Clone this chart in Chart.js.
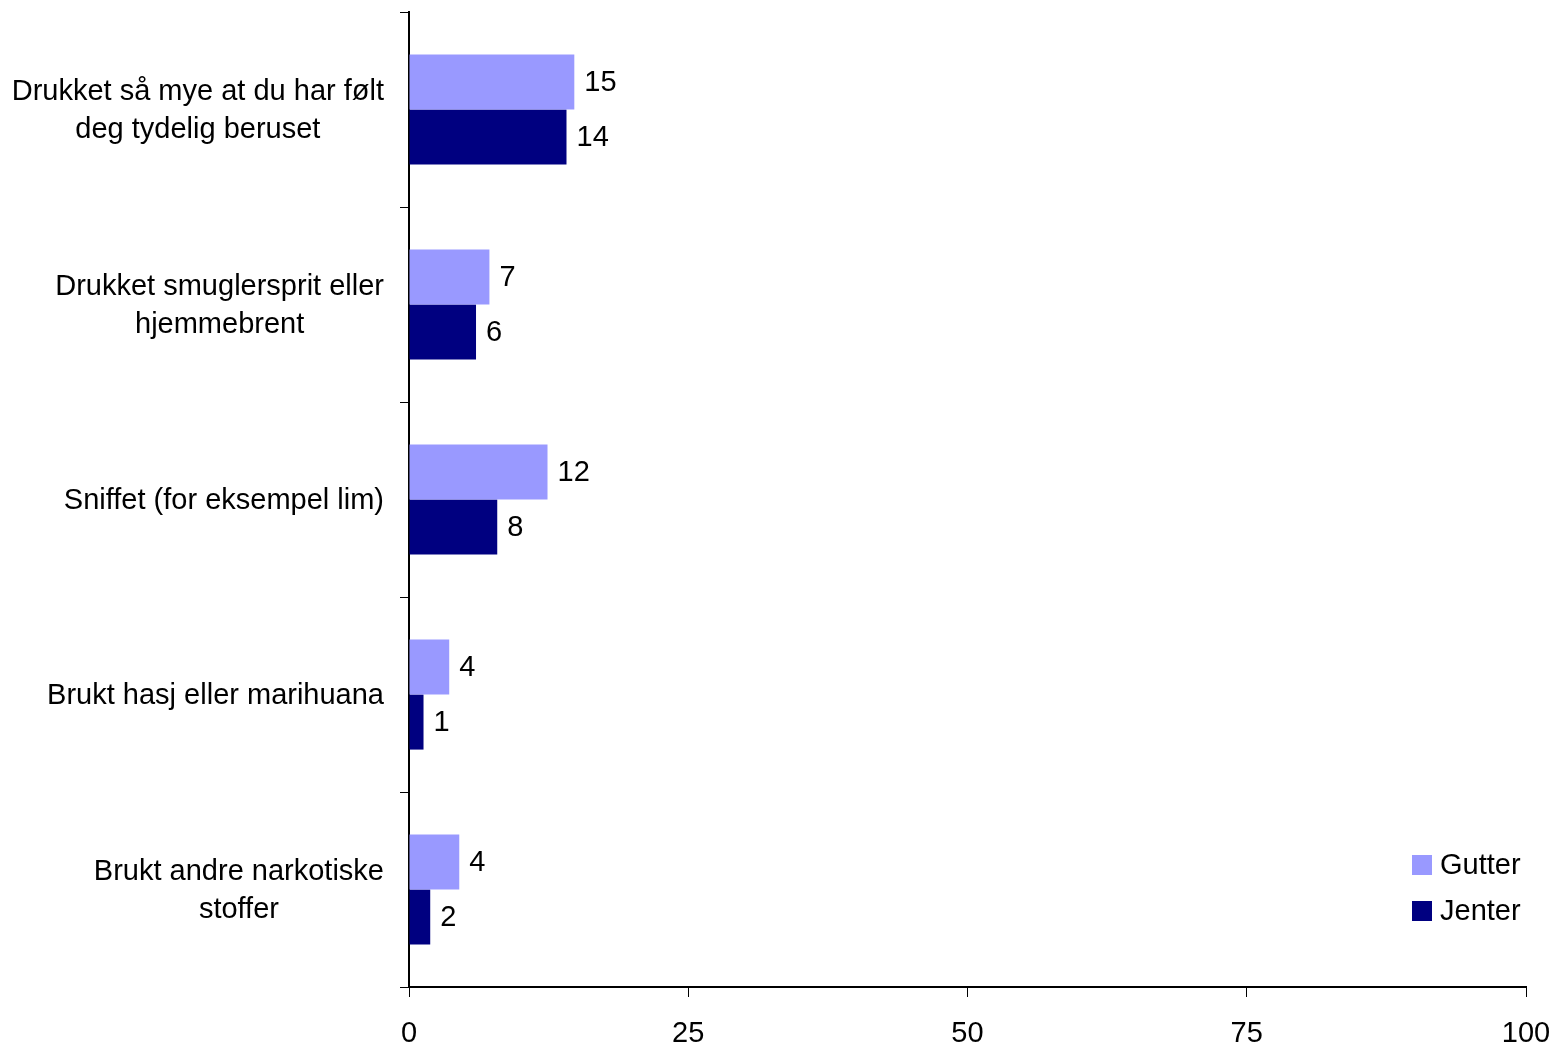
<!DOCTYPE html>
<html>
<head>
<meta charset="utf-8">
<script src="https://cdn.jsdelivr.net/npm/chart.js@4/dist/chart.umd.min.js"></script>
<style>
html,body{margin:0;padding:0;background:#fff;}
#wrap{width:1554px;height:1045px;position:relative;}
</style>
</head>
<body>
<div id="wrap"><canvas id="c" width="1554" height="1045"></canvas></div>
<script>
const categories = [
  ["Drukket så mye at du har følt", "deg tydelig beruset"],
  ["Drukket smuglersprit eller", "hjemmebrent"],
  ["Sniffet (for eksempel lim)"],
  ["Brukt hasj eller marihuana"],
  ["Brukt andre narkotiske", "stoffer"]
];
const seriesNames = ["Gutter", "Jenter"];
const gutter = [14.8, 7.2, 12.4, 3.6, 4.5];
const jenter = [14.1, 6.0, 7.9, 1.3, 1.9];
const gutterLabels = ["15", "7", "12", "4", "4"];
const jenterLabels = ["14", "6", "8", "1", "2"];
const xTicks = [0, 25, 50, 75, 100];

const FONT = "Liberation Sans, Arial, sans-serif";
const FS = 29;
const colors = ["#9999FF", "#000080"];
const valueLabels = [gutterLabels, jenterLabels];

const customDraw = {
  id: 'customDraw',
  afterDraw(chart) {
    const ctx = chart.ctx;
    const y = chart.scales.y;
    ctx.save();
    ctx.fillStyle = '#000';
    ctx.font = FS + 'px ' + FONT;
    const lh = 38;
    categories.forEach((lines, i) => {
      const cy = y.getPixelForValue(i);
      let w = 0;
      lines.forEach(l => { w = Math.max(w, ctx.measureText(l).width); });
      const right = chart.chartArea.left - 25;
      const cx = right - w / 2;
      ctx.textAlign = 'center';
      ctx.textBaseline = 'middle';
      const start = cy - (lines.length - 1) * lh / 2 + 1;
      lines.forEach((l, k) => ctx.fillText(l, cx, start + k * lh));
    });
    ctx.textAlign = 'left';
    ctx.textBaseline = 'middle';
    chart.data.datasets.forEach((ds, di) => {
      const meta = chart.getDatasetMeta(di);
      meta.data.forEach((bar, i) => {
        ctx.fillText(valueLabels[di][i], bar.x + 10, bar.y + 1);
      });
    });
    const lx = 1412, ly = [865, 911];
    seriesNames.forEach((n, i) => {
      ctx.fillStyle = colors[i];
      ctx.fillRect(lx, ly[i] - 10, 20, 20);
      ctx.fillStyle = '#000';
      ctx.fillText(n, lx + 28, ly[i] + 1);
    });
    ctx.restore();
  }
};

new Chart(document.getElementById('c'), {
  type: 'bar',
  data: {
    labels: categories,
    datasets: [
      { label: seriesNames[0], data: gutter, backgroundColor: colors[0], borderWidth: 0 },
      { label: seriesNames[1], data: jenter, backgroundColor: colors[1], borderWidth: 0 }
    ]
  },
  options: {
    indexAxis: 'y',
    responsive: false,
    animation: false,
    devicePixelRatio: 1,
    layout: { padding: { left: 0, top: 12, right: 28, bottom: 0 } },
    datasets: { bar: { categoryPercentage: 0.565, barPercentage: 1.0 } },
    plugins: { legend: { display: false }, tooltip: { enabled: false } },
    scales: {
      x: {
        min: 0, max: 100,
        afterBuildTicks(scale) { scale.ticks = xTicks.map(v => ({ value: v })); },
        afterFit(scale) { scale.height = 58; scale.paddingRight = 0; scale.paddingLeft = 0; },
        border: { display: true, color: '#000', width: 2 },
        grid: { drawOnChartArea: false, drawTicks: true, tickLength: 10, color: '#000', lineWidth: 1 },
        ticks: { color: '#000', font: { family: FONT, size: FS }, padding: 20, maxRotation: 0 }
      },
      y: {
        afterFit(scale) { scale.width = 409; scale.paddingTop = 0; scale.paddingBottom = 0; },
        border: { display: true, color: '#000', width: 2 },
        grid: { offset: true, drawOnChartArea: false, drawTicks: true, tickLength: 9, color: '#000', lineWidth: 1 },
        ticks: { display: false }
      }
    }
  },
  plugins: [customDraw]
});
</script>
</body>
</html>
